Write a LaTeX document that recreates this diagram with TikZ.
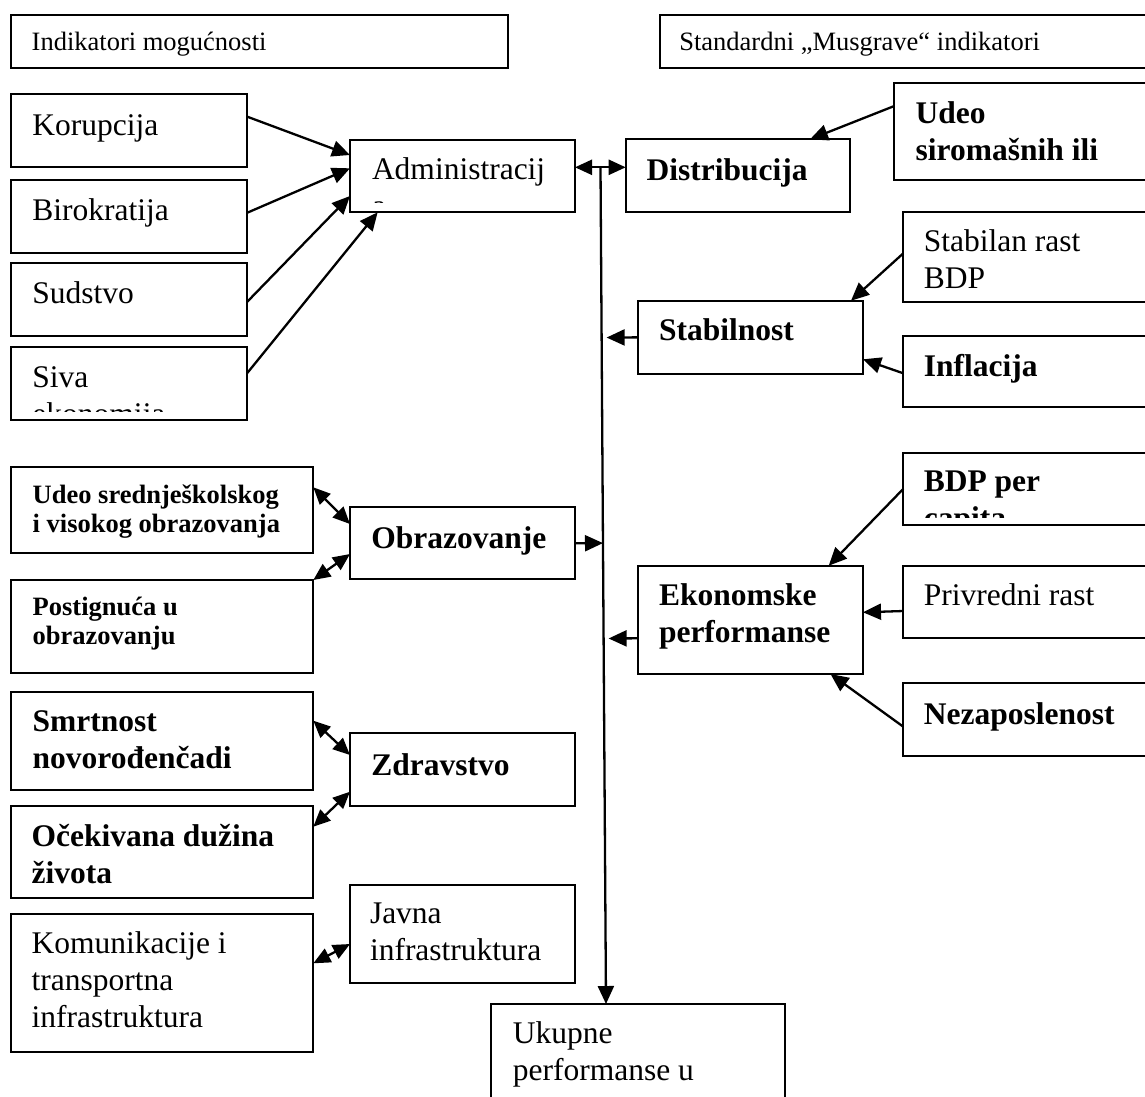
\documentclass[tikz,border=0pt]{standalone}
\usepackage{fontspec}
\setmainfont{Liberation Serif}
\usetikzlibrary{arrows.meta,calc}
\tikzset{
  box/.style={draw, line width=2pt, inner sep=0pt, outer sep=0pt, anchor=north west},
  txt/.style={anchor=base west, inner sep=0pt, outer sep=0pt},
  nf/.style={font=\fontsize{31.5}{37}\selectfont},
  bf/.style={font=\fontsize{31.5}{37}\selectfont\bfseries},
  sf/.style={font=\fontsize{26.5}{29}\selectfont},
  sbf/.style={font=\fontsize{26.5}{29}\selectfont\bfseries},
  conn/.style={line width=2.3pt, -{Triangle[length=18pt,width=16pt]}},
  dconn/.style={line width=2.3pt, {Triangle[length=17pt,width=15pt]}-{Triangle[length=17pt,width=15pt]}},
}
\newcommand\bx[5]{\node[box, minimum width={#4pt-#2pt}, minimum height={#5pt-#3pt}] (#1) at (#2pt,-#3pt) {};}
\newcommand\ml[1]{\begin{tabular}[t]{@{}l@{}}#1\end{tabular}}
\begin{document}
\begin{tikzpicture}
\useasboundingbox (0,0) rectangle (1145pt,-1096pt);
\clip (0,0) rectangle (1145pt,-1096pt);
\fill[white] (0,0) rectangle (1145pt,-1096pt);

% boxes
\bx{h1}{11}{15}{508}{68.3}
\bx{h2}{659.6}{15}{1160}{68.3}
\bx{kor}{11}{94.3}{247.3}{166.7}
\bx{bir}{11}{180}{247.3}{252.7}
\bx{sud}{11}{262.7}{247.3}{335.7}
\bx{siv}{11}{347.3}{247.3}{420}
\bx{adm}{350}{140}{575}{212.3}
\bx{dis}{625.7}{139.3}{850.3}{212.3}
\bx{usi}{894.3}{83.3}{1160}{180}
\bx{sra}{903.3}{212.3}{1160}{302.3}
\bx{stb}{638.4}{300.7}{863}{374}
\bx{inf}{903.3}{335.7}{1160}{407.3}
\bx{uso}{11.2}{467.3}{313.3}{552.7}
\bx{obr}{350}{507.3}{575}{579.3}
\bx{pos}{11.2}{580}{313.3}{673.3}
\bx{bpc}{903.3}{452.7}{1160}{525}
\bx{eko}{638.4}{565.7}{863}{674}
\bx{pri}{903.3}{565.7}{1160}{638.3}
\bx{nez}{903.3}{683.3}{1160}{755.7}
\bx{smr}{11.2}{691.7}{313.3}{790}
\bx{zdr}{350}{733.3}{575}{806}
\bx{oce}{11.2}{806}{313.3}{898.3}
\bx{kom}{11.2}{914.3}{313.3}{1051.7}
\bx{jav}{350}{885}{575}{983.3}
\bx{ukp}{491.3}{1004}{784.7}{1120}

% texts
\node[txt,sf] (h1t) at (31.7pt,-50.7pt) {Indikatori mogućnosti};
\node[txt,sf] (h2t) at (679.3pt,-50.7pt) {Standardni „Musgrave“ indikatori};
\node[txt,nf] (kort) at (32.3pt,-135pt) {Korupcija};
\node[txt,nf] (birt) at (32.3pt,-220pt) {Birokratija};
\node[txt,nf] (sudt) at (32.3pt,-303pt) {Sudstvo};
\begin{scope}
  \clip (11pt,-347.3pt) rectangle (247.3pt,-411pt);
  \node[txt,nf] (sivt) at (32.3pt,-387pt) {\ml{Siva\\ekonomija}};
\end{scope}
\begin{scope}
  \clip (350pt,-140pt) rectangle (575pt,-202pt);
  \node[txt,nf] (admt) at (372pt,-179pt) {\ml{Administracij\\a}};
\end{scope}
\node[txt,bf] (dist) at (646.6pt,-180pt) {Distribucija};
\node[txt,bf] (usit) at (915.7pt,-123.3pt) {\ml{Udeo\\siromašnih ili}};
\node[txt,nf] (srat) at (923.8pt,-251.7pt) {\ml{Stabilan rast\\BDP}};
\node[txt,bf] (stbt) at (659pt,-340.5pt) {Stabilnost};
\node[txt,bf] (inft) at (923.8pt,-376pt) {Inflacija};
\node[txt,sbf] (usot) at (32.7pt,-503.3pt) {\ml{Udeo srednješkolskog\\i visokog obrazovanja}};
\node[txt,bf] (obrt) at (371.4pt,-548pt) {Obrazovanje};
\node[txt,sbf] (post) at (32.7pt,-615.7pt) {\ml{Postignuća u\\obrazovanju}};
\begin{scope}
  \clip (903.3pt,-452.7pt) rectangle (1160pt,-517pt);
  \node[txt,bf] (bpct) at (923.8pt,-491.7pt) {\ml{BDP per\\capita}};
\end{scope}
\node[txt,bf] (ekot) at (659pt,-605pt) {\ml{Ekonomske\\performanse}};
\node[txt,nf] (prit) at (923.8pt,-605.7pt) {Privredni rast};
\node[txt,bf] (nezt) at (923.8pt,-724pt) {Nezaposlenost};
\node[txt,bf] (smrt) at (32.7pt,-731.7pt) {\ml{Smrtnost\\novorođenčadi}};
\node[txt,bf] (zdrt) at (371.4pt,-775pt) {Zdravstvo};
\node[txt,bf] (ocet) at (31.6pt,-846pt) {\ml{Očekivana dužina\\života}};
\node[txt,nf] (komt) at (31.6pt,-953.3pt) {\ml{Komunikacije i\\transportna\\infrastruktura}};
\node[txt,nf] (javt) at (370pt,-923.3pt) {\ml{Javna\\infrastruktura}};
\node[txt,nf] (ukpt) at (512.8pt,-1043.3pt) {\ml{Ukupne\\performanse u}};

% main vertical line
\coordinate (vtop) at (600.5pt,-167.3pt);
\coordinate (vbot) at ($(ukp.north west)+(114.7pt,0)$);
\draw[conn] (vtop) -- (vbot);
\draw[dconn] (adm.east |- vtop) -- (dis.west |- vtop);

% administration inputs
\draw[conn] ([yshift=13.8pt]kor.east) -- ([yshift=21.15pt]adm.west);
\draw[conn] ([yshift=3.65pt]bir.east) -- ([yshift=7.85pt]adm.west);
\draw[conn] ([yshift=-2.5pt]sud.east) -- ([yshift=-19.85pt]adm.west);
\draw[conn] ([yshift=10.65pt]siv.east) -- ([xshift=27.6pt]adm.south west);

% right side inputs
\draw[conn] ([yshift=25.65pt]usi.west) -- ([xshift=-40.3pt]dis.north east);
\draw[conn] ([yshift=4pt]sra.west) -- ([xshift=-12pt]stb.north east);
\draw[conn] ([yshift=-1.8pt]inf.west) -- ([yshift=-21.95pt]stb.east);
\draw[conn] (bpc.west) -- ([xshift=-34.3pt]eko.north east);
\draw[conn] ([yshift=-9pt]pri.west) -- ([yshift=7.55pt]eko.east);
\draw[conn] ([yshift=-7.2pt]nez.west) -- ([xshift=-32.5pt]eko.south east);

% into the vertical line
\draw[conn, shorten >=5pt] (stb.west) -- ($(vtop)!(stb.west)!(vbot)$);
\draw[conn] (obr.east) -- ($(vtop)!(obr.east)!(vbot)$);
\draw[conn, shorten >=5pt] ([yshift=-18.45pt]eko.west) -- ($(vtop)!([yshift=-18.45pt]eko.west)!(vbot)$);

% left double arrows
\draw[dconn] ([yshift=22.7pt]uso.east) -- ([yshift=19.3pt]obr.west);
\draw[dconn] (pos.north east) -- ([yshift=-10.7pt]obr.west);
\draw[dconn] ([yshift=20.15pt]smr.east) -- ([yshift=14.65pt]zdr.west);
\draw[dconn] ([yshift=25.45pt]oce.east) -- ([yshift=-22.05pt]zdr.west);
\draw[dconn] ([yshift=19.7pt]kom.east) -- ([yshift=-9.85pt]jav.west);
\end{tikzpicture}
\end{document}
